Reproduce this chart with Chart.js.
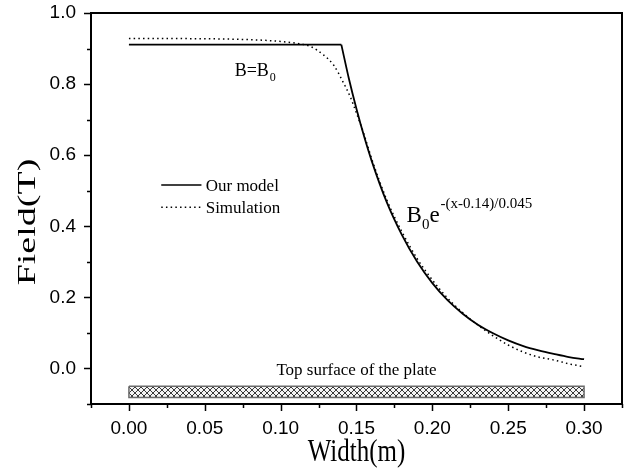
<!DOCTYPE html>
<html>
<head>
<meta charset="utf-8">
<script src="https://cdn.jsdelivr.net/npm/chart.js@4.4.1/dist/chart.umd.min.js"></script>
<style>
html, body { margin: 0; padding: 0; background: #fff; }
#wrap { width: 626px; height: 471px; }
</style>
</head>
<body>
<div id="wrap"><canvas id="fieldchart"></canvas></div>
<script>
// Our model: flat B0 up to 0.14 m, then decay
const modelFlatX = [0.00, 0.14];
const modelFlatY = [0.911, 0.911];
const modelDecayX = [0.14, 0.145, 0.15, 0.155, 0.16, 0.17, 0.18, 0.19, 0.20, 0.21, 0.22, 0.23, 0.24, 0.25, 0.26, 0.27, 0.28, 0.29, 0.30];
const modelDecayY = [0.911, 0.815, 0.730, 0.653, 0.584, 0.467, 0.375, 0.300, 0.240, 0.192, 0.154, 0.123, 0.099, 0.079, 0.063, 0.051, 0.041, 0.032, 0.026];

// Simulation
const simX = [0.00, 0.03, 0.06, 0.08, 0.09, 0.10, 0.11, 0.12, 0.128, 0.135, 0.141, 0.146, 0.15, 0.155, 0.16, 0.17, 0.18, 0.19, 0.20, 0.21, 0.22, 0.23, 0.24, 0.25, 0.26, 0.27, 0.28, 0.29, 0.30];
const simY = [0.928, 0.928, 0.927, 0.925, 0.923, 0.920, 0.915, 0.905, 0.883, 0.853, 0.807, 0.763, 0.718, 0.658, 0.590, 0.474, 0.384, 0.309, 0.249, 0.198, 0.157, 0.122, 0.092, 0.066, 0.046, 0.032, 0.024, 0.013, 0.005];

// the plate under the field
const plateX = [0.00, 0.30];
const plateTop = -0.05;
const plateBottom = -0.082;

// axes
const xMin = -0.025, xMax = 0.325, xStep = 0.025;
const yMin = -0.1, yMax = 1.0, yStep = 0.1;

function pts(xs, ys) {
    return xs.map((x, i) => ({ x: x, y: ys[i] }));
}

function hatchPattern() {
    const c = document.createElement('canvas');
    c.width = 6; c.height = 6;
    const g = c.getContext('2d');
    g.fillStyle = '#f4f4f4';
    g.fillRect(0, 0, 6, 6);
    g.strokeStyle = '#3a3a3a';
    g.lineWidth = 1;
    g.beginPath();
    g.moveTo(0, 0); g.lineTo(6, 6);
    g.moveTo(6, 0); g.lineTo(0, 6);
    g.stroke();
    return g.createPattern(c, 'repeat');
}

const serif = '"Liberation Serif", "Times New Roman", serif';

function noPad(s) {
    s.paddingTop = 0; s.paddingBottom = 0;
    s.paddingLeft = 0; s.paddingRight = 0;
}

const decorPlugin = {
    id: 'decor',
    afterDraw(chart) {
        const ctx = chart.ctx;
        const xs = chart.scales.x, ys = chart.scales.y;
        const a = chart.chartArea;
        ctx.save();

        // frame
        ctx.strokeStyle = '#000';
        ctx.lineWidth = 2;
        ctx.strokeRect(a.left, a.top, a.right - a.left, a.bottom - a.top);

        // ticks, major and minor, outward
        ctx.lineWidth = 1.5;
        ctx.beginPath();
        xs.ticks.forEach(t => {
            const px = Math.round(xs.getPixelForValue(t.value)) + 0.5;
            const len = t.label ? 7 : 4;
            ctx.moveTo(px, a.bottom);
            ctx.lineTo(px, a.bottom + len);
        });
        ys.ticks.forEach(t => {
            const py = Math.round(ys.getPixelForValue(t.value)) + 0.5;
            const len = t.label ? 7 : 4;
            ctx.moveTo(a.left, py);
            ctx.lineTo(a.left - len, py);
        });
        ctx.stroke();

        ctx.fillStyle = '#000';
        ctx.textBaseline = 'alphabetic';

        // B = B0
        let bx = xs.getPixelForValue(0.0697), by = ys.getPixelForValue(0.823);
        ctx.font = '18px ' + serif;
        ctx.textAlign = 'left';
        ctx.fillText('B=B', bx, by);
        let w = ctx.measureText('B=B').width;
        ctx.font = '12px ' + serif;
        ctx.fillText('0', bx + w + 1, by + 5);

        // B0 e^-(x-0.14)/0.045
        bx = xs.getPixelForValue(0.183); by = ys.getPixelForValue(0.413);
        ctx.font = '23px ' + serif;
        ctx.fillText('B', bx, by);
        w = ctx.measureText('B').width;
        ctx.font = '15px ' + serif;
        ctx.fillText('0', bx + w, by + 7);
        let w0 = ctx.measureText('0').width;
        ctx.font = '23px ' + serif;
        ctx.fillText('e', bx + w + w0, by);
        let we = ctx.measureText('e').width;
        ctx.font = '15px ' + serif;
        ctx.fillText('-(x-0.14)/0.045', bx + w + w0 + we + 1, by - 14);

        // plate caption
        ctx.font = '17px ' + serif;
        ctx.textAlign = 'center';
        ctx.fillText('Top surface of the plate', xs.getPixelForValue(0.15), ys.getPixelForValue(-0.019));

        // legend
        const lx0 = xs.getPixelForValue(0.0213), lx1 = xs.getPixelForValue(0.0478);
        const ly1 = ys.getPixelForValue(0.516), ly2 = ys.getPixelForValue(0.4535);
        ctx.lineWidth = 1.6;
        ctx.beginPath();
        ctx.moveTo(lx0, ly1); ctx.lineTo(lx1, ly1);
        ctx.stroke();
        ctx.setLineDash([1.5, 3.2]);
        ctx.lineWidth = 1.4;
        ctx.beginPath();
        ctx.moveTo(lx0, ly2); ctx.lineTo(lx1, ly2);
        ctx.stroke();
        ctx.setLineDash([]);
        ctx.font = '17px ' + serif;
        ctx.textAlign = 'left';
        const tx = xs.getPixelForValue(0.0506);
        ctx.fillText('Our model', tx, ly1 + 6);
        ctx.fillText('Simulation', tx, ly2 + 6);

        // axis titles, narrow like the original figure
        ctx.font = '32px ' + serif;
        ctx.textAlign = 'center';
        ctx.save();
        ctx.translate((a.left + a.right) / 2, 461);
        ctx.scale(0.78, 1);
        ctx.fillText('Width(m)', 0, 0);
        ctx.restore();

        ctx.font = '38px ' + serif;
        ctx.save();
        ctx.translate(35, 222);
        ctx.rotate(-Math.PI / 2);
        ctx.scale(1, 0.68);
        ctx.fillText('Field(T)', 0, 0);
        ctx.restore();

        ctx.restore();
    }
};

const hatch = hatchPattern();

new Chart('fieldchart', {
    type: 'line',
    data: {
        datasets: [
            {
                label: 'Our model',
                data: pts(modelFlatX, modelFlatY),
                borderColor: '#000',
                borderWidth: 1.8,
                pointRadius: 0,
                fill: false,
                order: 1
            },
            {
                label: 'Our model decay',
                data: pts(modelDecayX, modelDecayY),
                borderColor: '#000',
                borderWidth: 1.8,
                pointRadius: 0,
                cubicInterpolationMode: 'monotone',
                fill: false,
                order: 1
            },
            {
                label: 'Simulation',
                data: pts(simX, simY),
                borderColor: '#000',
                borderWidth: 1.5,
                borderDash: [1.5, 3.2],
                pointRadius: 0,
                cubicInterpolationMode: 'monotone',
                fill: false,
                order: 2
            },
            {
                label: 'plate top',
                data: plateX.map(x => ({ x: x, y: plateTop })),
                borderWidth: 0,
                pointRadius: 0,
                backgroundColor: hatch,
                fill: '+1',
                order: 5
            },
            {
                label: 'plate bottom',
                data: plateX.map(x => ({ x: x, y: plateBottom })),
                borderWidth: 0,
                pointRadius: 0,
                fill: false,
                order: 5
            },
            {
                label: 'plate edge',
                data: [
                    { x: plateX[0], y: plateTop }, { x: plateX[1], y: plateTop },
                    { x: plateX[1], y: plateBottom }, { x: plateX[0], y: plateBottom },
                    { x: plateX[0], y: plateTop }
                ],
                borderColor: '#6a6a6a',
                borderWidth: 1.5,
                pointRadius: 0,
                fill: false,
                order: 4
            }
        ]
    },
    options: {
        responsive: true,
        maintainAspectRatio: false,
        animation: false,
        layout: { padding: { top: 13, right: 4, left: 0, bottom: 0 } },
        plugins: {
            legend: { display: false },
            tooltip: { enabled: false }
        },
        scales: {
            x: {
                type: 'linear',
                min: xMin,
                max: xMax,
                grid: { display: false },
                border: { display: false },
                ticks: {
                    stepSize: xStep,
                    maxTicksLimit: 30,
                    autoSkip: false,
                    maxRotation: 0,
                    padding: 5,
                    color: '#000',
                    font: { family: '"Liberation Sans", Arial, sans-serif', size: 19 },
                    callback: v => {
                        const k = Math.round(v / 0.025);
                        return (k % 2 === 0 && v > -0.001 && v < 0.301) ? v.toFixed(2) : '';
                    }
                },
                afterFit: s => { s.height = 67; noPad(s); }
            },
            y: {
                type: 'linear',
                min: yMin,
                max: yMax,
                grid: { display: false },
                border: { display: false },
                ticks: {
                    stepSize: yStep,
                    maxTicksLimit: 30,
                    autoSkip: false,
                    padding: 7,
                    color: '#000',
                    font: { family: '"Liberation Sans", Arial, sans-serif', size: 19 },
                    callback: v => {
                        const k = Math.round(v * 10);
                        return (k % 2 === 0 && k >= 0) ? (k / 10).toFixed(1) : '';
                    }
                },
                afterFit: s => { s.width = 91; noPad(s); }
            }
        }
    },
    plugins: [decorPlugin]
});
</script>
</body>
</html>
